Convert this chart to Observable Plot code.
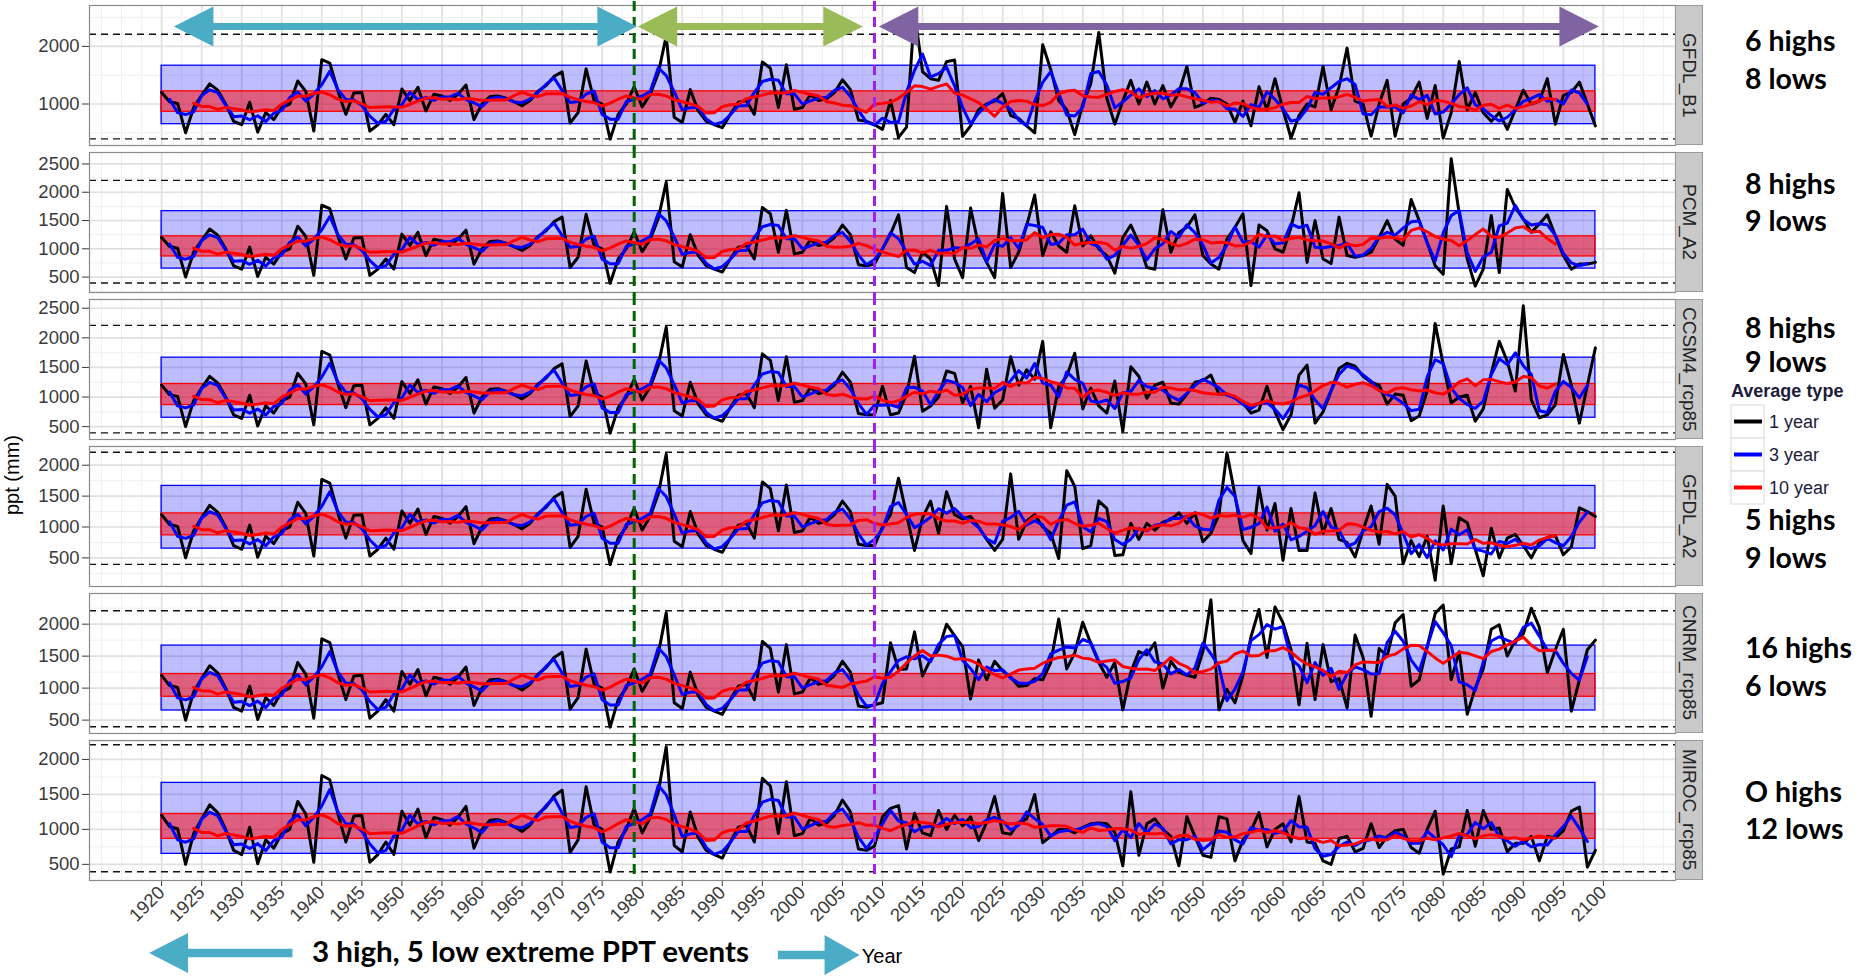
<!DOCTYPE html>
<html>
<head>
<meta charset="utf-8">
<script src="https://cdn.jsdelivr.net/npm/d3@7"></script>
<script src="https://cdn.jsdelivr.net/npm/@observablehq/plot@0.6"></script>
<style>
  html, body { margin: 0; padding: 0; background: #fff; }
  #chart { position: relative; width: 1864px; height: 980px; overflow: hidden; font-family: "Liberation Sans", Arial, sans-serif; }
  .panel { position: absolute; left: 0; }
  .strip { position: absolute; left: 1675px; width: 28px; background: #c9c9c9; border: 1px solid #9a9a9a; box-sizing: border-box; display: flex; align-items: center; justify-content: center; }
  .strip span { writing-mode: vertical-rl; font-size: 19px; color: #222; white-space: nowrap; }
  #overlay { position: absolute; left: 0; top: 0; pointer-events: none; }
</style>
</head>
<body>
<div id="chart"></div>
<script>
// ---------------- data ----------------
const firstYear = 1920;
const seriesNames = ["1 year", "3 year", "10 year"];
const seriesColors = ["#000000", "#0000ff", "#ff0000"];
const panelNames = ["GFDL_B1", "PCM_A2", "CCSM4_rcp85", "GFDL_A2", "CNRM_rcp85", "MIROC_rcp85"];

// observed annual precipitation 1920-2008 (shared by every panel)
const historical = [
  1200, 1040, 1010, 500, 940, 1150, 1350, 1240, 1000, 700,
  640, 1030, 510, 850, 730, 940, 1000, 1400, 1220, 530,
  1770, 1710, 1230, 820, 1190, 1200, 530, 640, 820, 640,
  1260, 1060, 1290, 880, 1170, 1140, 1060, 1170, 1330, 730,
  1000, 1130, 1140, 1100, 1040, 970, 1060, 1220, 1320, 1480,
  1560, 670, 850, 1610, 1060, 1000, 390, 820, 1000, 1300,
  950, 1170, 1530, 2180, 770, 680, 1250, 880, 700, 640,
  590, 820, 1030, 1060, 820, 1730, 1620, 940, 1680, 910,
  940, 1160, 1060, 1090, 1200, 1420, 1250, 720, 700
];

// projections 2009-2099
const futureGFDL_B1 = [
  640, 560, 1060, 420, 600, 2600, 1560, 1440, 1410, 1735,
  1765, 440, 620, 900, 1000, 1050, 1180, 800, 750, 620,
  500, 2030, 1600, 1060, 900, 470, 1000, 1350, 2240, 1100,
  650, 1050, 1410, 1000, 1380, 1000, 1320, 950, 1200, 1650,
  940, 1000, 1100, 1080, 1000, 680, 1050, 620, 1300, 900,
  1440, 900, 410, 800, 1000, 950, 1650, 900, 1300, 1970,
  1050, 1000, 440, 1000, 1410, 440, 1000, 1100, 1380, 750,
  1320, 410, 850, 1740, 900, 1200, 850, 700, 850, 560,
  900, 1240, 1000, 1050, 1440, 650, 1150, 1200, 1380, 1000,
  620
];
const futurePCM_A2 = [
  730, 1000, 1260, 1600, 670, 580, 940, 820, 350, 1750,
  820, 490, 1720, 1050, 760, 490, 1980, 670, 940, 1410,
  1950, 880, 1300, 1050, 940, 1760, 1050, 1230, 1000, 880,
  570, 1200, 1420, 1110, 670, 640, 1690, 940, 1290, 1380,
  1600, 880, 730, 640, 1170, 1380, 1620, 350, 1420, 1320,
  1000, 940, 1380, 1990, 760, 1500, 820, 740, 1560, 880,
  850, 880, 940, 1200, 1500, 1170, 1060, 1870, 1500, 1110,
  700, 550, 2590, 1620, 820, 340, 640, 1590, 580, 2050,
  1730, 1530, 1290, 1440, 1600, 1230, 880, 640, 730, 730,
  760
];
const futureCCSM4_rcp85 = [
  700, 1180, 700, 730, 1050, 1690, 760, 850, 1000, 1440,
  1400, 900, 1180, 480, 1470, 810, 950, 1680, 1200, 1460,
  1300, 1940, 480, 1180, 1350, 1740, 800, 1150, 850, 730,
  1270, 420, 1510, 1350, 980, 1200, 1250, 900, 880, 1050,
  1250, 1280, 1370, 1050, 1050, 1000, 900, 730, 780, 1180,
  750, 450, 700, 1370, 1540, 560, 750, 1100, 1480, 1570,
  1520, 1350, 1250, 1200, 880, 1050, 1030, 600, 680, 1100,
  2240, 1550, 900, 1000, 1030, 590, 800, 1400, 1940, 1600,
  1100, 2540, 950, 650, 700, 870, 1720, 1200, 560, 1200,
  1830
];
const futureGFDL_A2 = [
  700, 1000, 1200, 1790, 1200, 620, 1150, 1420, 900, 1570,
  1200, 1130, 1170, 1000, 800, 620, 800, 1860, 800, 1100,
  1200, 1000, 900, 490, 1910, 1660, 650, 700, 1420, 1300,
  540, 550, 1060, 800, 1060, 950, 1080, 1120, 1230, 1060,
  1230, 760, 900, 1200, 2200, 1520, 780, 570, 1640, 950,
  1380, 460, 1300, 620, 620, 1550, 900, 1300, 800, 750,
  515, 950, 1340, 720, 1690, 1500, 405, 780, 520, 850,
  140, 1340, 405, 1150, 1070, 640, 210, 980, 500, 820,
  880, 700, 500, 750, 830, 860, 550, 680, 1310, 1250,
  1170
];
const futureCNRM_rcp85 = [
  740, 770, 1710, 1290, 1300, 1880, 1190, 1450, 1600, 2000,
  1820, 1650, 830, 1440, 1130, 1420, 1270, 1170, 1030, 1040,
  1150, 1130, 1400, 2080, 1300, 1550, 2030, 1700, 1400, 1170,
  1400, 660, 1250, 1570, 1520, 1710, 1000, 1420, 1250, 1200,
  1170, 1570, 2380, 660, 980, 770, 1200, 1800, 2230, 1480,
  2270, 2020, 1600, 740, 1700, 820, 1680, 1100, 1150, 690,
  1830, 1480, 560, 1620, 1500, 2020, 2150, 1030, 1130, 1650,
  2170, 2300, 1130, 1570, 590, 1000, 1300, 1920, 1990, 1500,
  1750, 1850, 2250, 1950, 1240, 1600, 1920, 640, 1130, 1600,
  1750
];
const futureMIROC_rcp85 = [
  760, 1180, 1300, 1340, 720, 1230, 950, 910, 1270, 1000,
  1200, 1050, 1180, 840, 1100, 1470, 950, 930, 1100, 1150,
  1500, 810, 900, 1000, 1000, 950, 1030, 1080, 1090, 1080,
  960, 480, 1540, 630, 1080, 1150, 1000, 900, 480, 1180,
  900, 630, 600, 1180, 1150, 550, 850, 980, 1240, 750,
  1000, 1080, 820, 1470, 820, 800, 550, 500, 870, 900,
  680, 730, 1080, 740, 900, 980, 1000, 740, 660, 1000,
  1260, 360, 720, 750, 1270, 760, 1270, 1000, 1020, 680,
  800, 800, 900, 550, 900, 880, 980, 1260, 1320, 460,
  700
];
const futures = [futureGFDL_B1, futurePCM_A2, futureCCSM4_rcp85, futureGFDL_A2, futureCNRM_rcp85, futureMIROC_rcp85];

// reference levels (mm)
const outerBand = [650, 1665];     // blue band
const innerBand = [865, 1220];     // red band
const extremeLevels = [395, 2210]; // dashed thresholds
const bandYears = [1920, 2099];
const periodBreaks = [1979, 2009]; // green, purple dashed lines

// tick labels
const xTicks = [1920, 1925, 1930, 1935, 1940, 1945, 1950, 1955, 1960, 1965, 1970, 1975, 1980, 1985, 1990, 1995,
  2000, 2005, 2010, 2015, 2020, 2025, 2030, 2035, 2040, 2045, 2050, 2055, 2060, 2065, 2070, 2075, 2080, 2085, 2090, 2095, 2100];
const yTicksByPanel = [
  [1000, 2000],
  [500, 1000, 1500, 2000, 2500],
  [500, 1000, 1500, 2000, 2500],
  [500, 1000, 1500, 2000],
  [500, 1000, 1500, 2000],
  [500, 1000, 1500, 2000]
];

// annotation text
const highsLows = [
  ["6 highs", "8 lows"], ["8 highs", "9 lows"], ["8 highs", "9 lows"],
  ["5 highs", "9 lows"], ["16 highs", "6 lows"], ["O highs", "12 lows"]
];
const periodArrows = [
  {from: 1921.6, to: 1979.4, color: "#4BACC6"},
  {from: 1979.5, to: 2007.6, color: "#9BBB59"},
  {from: 2009.6, to: 2099.5, color: "#8064A2"}
];
const bottomNote = "3 high, 5 low extreme PPT events";

// ---------------- layout ----------------
const W = 1864, H = 980;
const frameLeft = 89, frameRight = 1675;
const panelTop = [5, 152, 299, 446, 593, 740];
const frameH = 140;
const xDomain = [1911, 2109];
const font = '"Liberation Sans", Arial, sans-serif';
const lineW = 3;

const root = document.getElementById("chart");
const xMinor = [];
for (let v = xDomain[0] + 1.5; v <= xDomain[1]; v += 2.5) xMinor.push(v);

panelNames.forEach((name, p) => {
  const values = historical.concat(futures[p]);
  const rows = values.map((v, i) => ({year: firstYear + i, ppt: v}));
  const [lo, hi] = d3.extent(values);
  const pad = (hi - lo) * 0.05;
  const yDomain = [lo - pad, hi + pad];
  const yTicks = yTicksByPanel[p];
  const step = yTicks[1] - yTicks[0];
  const yMinor = [];
  for (let v = yTicks[0] - step / 2; v <= yDomain[1]; v += step) if (v >= yDomain[0]) yMinor.push(v);
  const isLast = p === panelNames.length - 1;
  const mt = 4, mb = isLast ? 70 : 4;

  const chart = Plot.plot({
    width: W,
    height: frameH + mt + mb,
    marginLeft: frameLeft,
    marginRight: W - frameRight,
    marginTop: mt,
    marginBottom: mb,
    style: {fontFamily: font, fontSize: "18.5px", color: "#3a3a3a", background: "transparent", overflow: "visible"},
    x: {domain: xDomain, axis: isLast ? "bottom" : null, ticks: xTicks, tickRotate: -45, tickSize: 6, tickPadding: 3, tickFormat: d => String(d), label: null},
    y: {domain: yDomain, ticks: yTicks, tickSize: 7, tickPadding: 3, tickFormat: d => String(d), label: null},
    marks: [
      Plot.ruleX(xMinor, {stroke: "#f0f0f0", strokeWidth: 1}),
      Plot.ruleX(xTicks, {stroke: "#e0e0e0", strokeWidth: 1.7}),
      Plot.ruleY(yMinor, {stroke: "#f0f0f0", strokeWidth: 1}),
      Plot.ruleY(yTicks, {stroke: "#e0e0e0", strokeWidth: 1.7}),
      Plot.rect([{}], {x1: bandYears[0], x2: bandYears[1], y1: outerBand[0], y2: outerBand[1], fill: "#0000ff", fillOpacity: 0.26, stroke: "#0000ff", strokeWidth: 1.3}),
      Plot.rect([{}], {x1: bandYears[0], x2: bandYears[1], y1: innerBand[0], y2: innerBand[1], fill: "#ff0000", fillOpacity: 0.5, stroke: "#ff0000", strokeWidth: 1.3}),
      Plot.ruleY(extremeLevels, {stroke: "#111", strokeWidth: 1.4, strokeDasharray: "7,5"}),
      Plot.line(rows, {x: "year", y: "ppt", stroke: seriesColors[0], strokeWidth: lineW, strokeLinejoin: "round"}),
      Plot.line(rows, Plot.windowY({k: 3, anchor: "middle", strict: true, reduce: "mean"},
        {x: "year", y: "ppt", stroke: seriesColors[1], strokeWidth: lineW, strokeLinejoin: "round"})),
      Plot.line(rows, Plot.windowY({k: 10, anchor: "middle", strict: true, reduce: "mean"},
        {x: "year", y: "ppt", stroke: seriesColors[2], strokeWidth: lineW, strokeLinejoin: "round"})),
      Plot.frame({stroke: "#8a8a8a", strokeWidth: 1.2}),
      Plot.ruleX([periodBreaks[0]], {stroke: "#006400", strokeWidth: 3, strokeDasharray: "10,6", insetTop: -mt, insetBottom: isLast ? 0 : -4}),
      Plot.ruleX([periodBreaks[1]], {stroke: "#A020F0", strokeWidth: 3, strokeDasharray: "10,6", insetTop: -mt, insetBottom: isLast ? 0 : -4})
    ]
  });
  chart.classList.add("panel");
  chart.style.top = (panelTop[p] - mt) + "px";
  root.appendChild(chart);

  const strip = document.createElement("div");
  strip.className = "strip";
  strip.style.top = panelTop[p] + "px";
  strip.style.height = frameH + "px";
  const sp = document.createElement("span");
  sp.textContent = name;
  strip.appendChild(sp);
  root.appendChild(strip);
});

// ---------------- annotations overlay ----------------
const xs = Plot.scale({x: {domain: xDomain, range: [frameLeft, frameRight]}});
const svg = d3.create("svg").attr("id", "overlay").attr("width", W).attr("height", H)
  .attr("viewBox", `0 0 ${W} ${H}`).style("font-family", font);

function blockArrow(g, x0, x1, cy, headLen, headHalf, shaftHalf, color, leftHead, rightHead) {
  const pts = [];
  if (leftHead) pts.push([x0, cy], [x0 + headLen, cy - headHalf], [x0 + headLen, cy - shaftHalf]);
  else pts.push([x0, cy - shaftHalf]);
  if (rightHead) pts.push([x1 - headLen, cy - shaftHalf], [x1 - headLen, cy - headHalf], [x1, cy], [x1 - headLen, cy + headHalf], [x1 - headLen, cy + shaftHalf]);
  else pts.push([x1, cy - shaftHalf], [x1, cy + shaftHalf]);
  if (leftHead) pts.push([x0 + headLen, cy + shaftHalf], [x0 + headLen, cy + headHalf]);
  else pts.push([x0, cy + shaftHalf]);
  g.append("polygon").attr("points", pts.map(d => d.join(",")).join(" ")).attr("fill", color);
}

// period arrows on top panel
for (const a of periodArrows) {
  blockArrow(svg, xs.apply(a.from), xs.apply(a.to), 26.5, 39.5, 20, 3.6, a.color, true, true);
}

// bottom arrows + note
blockArrow(svg, xs.apply(1918.5), xs.apply(1936.4), 953, 39, 20, 4.2, "#4BACC6", true, false);
blockArrow(svg, xs.apply(1997.0), xs.apply(2007.2), 955, 35, 20, 4.2, "#4BACC6", false, true);
svg.append("text").attr("x", 312).attr("y", 962).attr("font-family", "Lato, 'Open Sans', sans-serif")
  .attr("font-weight", 700).attr("font-size", 28).attr("fill", "#000")
  .attr("textLength", 437).attr("lengthAdjust", "spacingAndGlyphs").text(bottomNote);

// axis titles
svg.append("text").attr("x", (frameLeft + frameRight) / 2).attr("y", 963).attr("text-anchor", "middle")
  .attr("font-size", 20).attr("fill", "#000").text("Year");
svg.append("text").attr("transform", "translate(19,475) rotate(-90)").attr("text-anchor", "middle")
  .attr("font-size", 20).attr("fill", "#000").text("ppt (mm)");

// highs / lows notes
const noteBaselines = [[51, 89], [194, 231], [338, 372], [530, 568], [658, 696], [802, 839]];
highsLows.forEach((pair, p) => {
  pair.forEach((t, j) => {
    svg.append("text").attr("x", 1745).attr("y", noteBaselines[p][j])
      .attr("font-family", "Lato, 'Open Sans', sans-serif").attr("font-weight", 700)
      .attr("font-size", 28.5).attr("fill", "#000").text(t);
  });
});

// legend
const lg = svg.append("g");
lg.append("text").attr("x", 1731).attr("y", 397).attr("font-size", 18).attr("font-weight", 700)
  .attr("fill", "#1c1c3c").text("Average type");
seriesNames.forEach((s, i) => {
  const top = 405 + i * 33;
  lg.append("rect").attr("x", 1731).attr("y", top).attr("width", 33).attr("height", 33)
    .attr("fill", "#fff").attr("stroke", "#d9d9d9").attr("stroke-width", 1);
  lg.append("line").attr("x1", 1734).attr("x2", 1762).attr("y1", top + 16.5).attr("y2", top + 16.5)
    .attr("stroke", seriesColors[i]).attr("stroke-width", 4);
  lg.append("text").attr("x", 1769).attr("y", top + 22.5).attr("font-size", 18)
    .attr("fill", "#1c1c3c").text(s);
});

root.appendChild(svg.node());
</script>
</body>
</html>
